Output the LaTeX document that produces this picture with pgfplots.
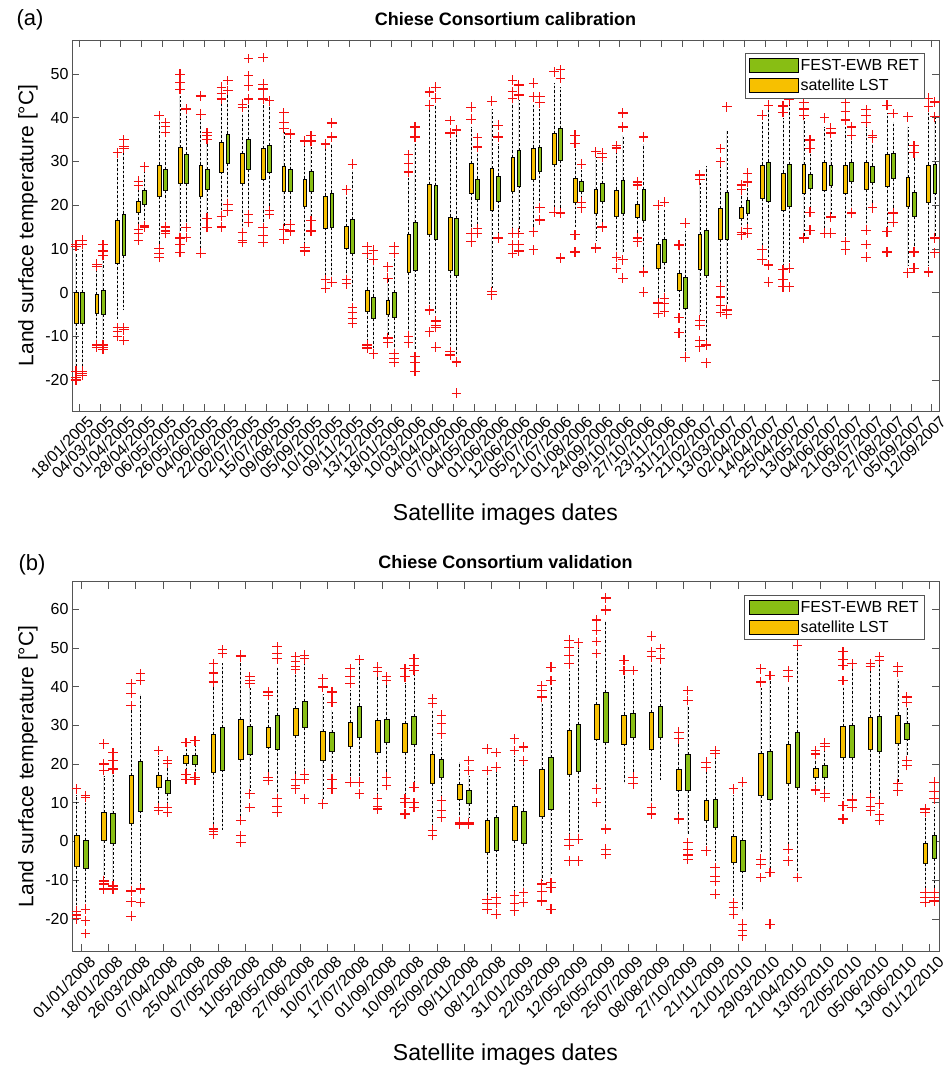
\documentclass[border=0pt]{standalone}
\usepackage{fontspec}
\setmainfont{Liberation Sans}
\usepackage{pgfplots}
\pgfplotsset{compat=1.18}
\usepgfplotslibrary{statistics}
\definecolor{yel}{RGB}{247,192,0}
\definecolor{grn}{RGB}{136,190,20}
\definecolor{axgray}{RGB}{85,85,85}
\definecolor{outred}{RGB}{245,15,15}

\pgfdeclareplotmark{rplus}{%
  \pgfsetstrokecolor{outred}%
  \pgfsetdash{}{0pt}%
  \pgfsetlinewidth{1.15pt}%
  \pgfpathmoveto{\pgfqpoint{-\pgfplotmarksize}{0pt}}%
  \pgfpathlineto{\pgfqpoint{\pgfplotmarksize}{0pt}}%
  \pgfpathmoveto{\pgfqpoint{0pt}{-\pgfplotmarksize}}%
  \pgfpathlineto{\pgfqpoint{0pt}{\pgfplotmarksize}}%
  \pgfusepathqstroke}

\pgfplotsset{
  ybox/.style={draw=black, fill=yel, line width=0.6pt, forget plot},
  gbox/.style={draw=black, fill=grn, line width=0.6pt, forget plot},
  outl/.style={only marks, mark=rplus, mark size=4.8pt, color=outred, forget plot},
  myaxis/.style={
    anchor=south west, scale only axis, width=867pt,
    axis line style={axgray, line width=0.7pt},
    tick style={axgray, line width=0.7pt},
    tick align=inside, major tick length=7pt,
    /pgf/number format/assume math mode=true,
    yticklabel style={font=\fontsize{16}{19}\selectfont},
    xticklabel style={font=\fontsize{16}{19}\selectfont, rotate=45, anchor=north east, xshift=6pt, yshift=-4pt},
    xlabel={Satellite images dates},
    ylabel={Land surface temperature [°C]},
    every axis y label/.style={at={(axis description cs:-0.0507,0.5)}, rotate=90, anchor=center, font=\fontsize{21}{24}\selectfont},
    title style={font=\bfseries\fontsize{18}{21}\selectfont, anchor=center},
    legend style={anchor=north east, draw=axgray, line width=0.7pt, font=\fontsize{16}{19}\selectfont, cells={anchor=west}, row sep=3pt, inner sep=4pt},
    legend image code/.code={\draw[#1] (0pt,-7pt) rectangle (49pt,7pt);},
    boxplot/draw direction=y,
    boxplot/every whisker/.style={dashed, dash pattern=on 2.5pt off 2pt, black, line width=0.6pt},
    boxplot/every median/.style={draw=none},
    boxplot/whisker extend=0,
  }
}
% top panel boxes (offset 0.15)
\newcommand{\Ya}[5]{\addplot[ybox, boxplot prepared={draw position=#1-0.15, lower whisker=#2, lower quartile=#3, median=#3, upper quartile=#4, upper whisker=#5}] coordinates {};}
\newcommand{\Ga}[5]{\addplot[gbox, boxplot prepared={draw position=#1+0.15, lower whisker=#2, lower quartile=#3, median=#3, upper quartile=#4, upper whisker=#5}] coordinates {};}
% bottom panel boxes (offset 0.165)
\newcommand{\Yb}[5]{\addplot[ybox, boxplot prepared={draw position=#1-0.165, lower whisker=#2, lower quartile=#3, median=#3, upper quartile=#4, upper whisker=#5}] coordinates {};}
\newcommand{\Gb}[5]{\addplot[gbox, boxplot prepared={draw position=#1+0.165, lower whisker=#2, lower quartile=#3, median=#3, upper quartile=#4, upper whisker=#5}] coordinates {};}

\begin{document}
\begin{tikzpicture}
\useasboundingbox (0,0) rectangle (950pt,1071pt);
\node[font=\fontsize{22}{25}\selectfont] at (30pt,1051pt) {(a)};
\node[font=\fontsize{22}{25}\selectfont] at (32pt,506pt) {(b)};

\begin{axis}[myaxis, at={(72pt,660pt)}, height=371pt,
  xmin=0.66, xmax=42.35, ymin=-27.1, ymax=57.8,
  ytick={-20,-10,...,50}, xtick={1,...,42},
  xticklabels={18/01/2005,04/03/2005,01/04/2005,28/04/2005,06/05/2005,26/05/2005,04/06/2005,22/06/2005,02/07/2005,15/07/2005,09/08/2005,05/09/2005,10/10/2005,09/11/2005,13/12/2005,18/01/2006,10/03/2006,04/04/2006,07/04/2006,04/05/2006,01/06/2006,12/06/2006,05/07/2006,21/07/2006,01/08/2006,24/09/2006,09/10/2006,27/10/2006,23/11/2006,31/12/2006,21/02/2007,13/03/2007,02/04/2007,14/04/2007,25/04/2007,13/05/2007,04/06/2007,21/06/2007,03/07/2007,27/08/2007,05/09/2007,12/09/2007},
  title={Chiese Consortium calibration},
  title style={at={(axis description cs:0.5,1.040)}},
  every axis x label/.style={at={(axis description cs:0.5,-0.280)}, anchor=center, font=\fontsize{23}{26}\selectfont},
  legend style={at={(axis description cs:0.984,0.965)}},
  boxplot/box extend=0.18]
\Ya{1}{-17}{-7}{0}{9}
\Ya{2}{-11}{-4.7}{-0.5}{5}
\Ya{3}{-6}{6.8}{16.5}{31}
\Ya{4}{15}{18.3}{21}{24}
\Ya{5}{11}{22}{29.2}{40}
\Ya{6}{13}{25}{33.2}{45}
\Ya{7}{10}{22}{29.2}{40}
\Ya{8}{18}{27.6}{34.4}{44}
\Ya{9}{14}{25}{31.9}{41}
\Ya{10}{15}{26}{33}{43}
\Ya{11}{15}{23.1}{29}{37}
\Ya{12}{11}{19.7}{26}{34}
\Ya{13}{4}{14.8}{22.1}{33}
\Ya{14}{4}{10.2}{15.2}{22}
\Ya{15}{-11}{-4.4}{0.6}{8}
\Ya{16}{-10}{-5}{-1.7}{3}
\Ya{17}{-9}{4.7}{13.4}{27}
\Ya{18}{-3}{13.4}{24.8}{42}
\Ya{19}{-13}{5}{17.3}{35}
\Ya{20}{14.5}{22.8}{29.6}{38}
\Ya{21}{1}{18.9}{28.5}{42}
\Ya{22}{14.5}{23.2}{31}{44}
\Ya{23}{15}{25.9}{33.1}{43}
\Ya{24}{19}{29.4}{36.5}{48}
\Ya{25}{15}{20.7}{26.2}{33}
\Ya{26}{12}{18.2}{23.7}{31}
\Ya{27}{9}{17.5}{23.5}{32}
\Ya{28}{13}{17.3}{20.3}{23}
\Ya{29}{-1.5}{5.6}{11}{19}
\Ya{30}{-4}{0.6}{4.5}{10}
\Ya{31}{-5}{5.4}{13.4}{25}
\Ya{32}{2}{12.2}{19.3}{29}
\Ya{33}{14}{17}{19.4}{23}
\Ya{34}{11}{21.6}{29.2}{39}
\Ya{35}{6}{18.9}{27.4}{40}
\Ya{36}{13}{22.8}{29.4}{40}
\Ya{37}{14}{23.5}{29.7}{38}
\Ya{38}{13}{22.8}{29.2}{38}
\Ya{39}{15}{23.7}{29.7}{38}
\Ya{40}{15}{24.4}{31.7}{41}
\Ya{41}{6}{19.8}{26.4}{38}
\Ya{42}{6}{20.7}{29.2}{42}
\Ga{1}{-17}{-7}{0}{10}
\Ga{2}{-11}{-5}{0.5}{8}
\Ga{3}{-4}{8.5}{18}{32}
\Ga{4}{16}{20.2}{23.3}{28}
\Ga{5}{16}{23.3}{28.2}{35}
\Ga{6}{15}{25}{31.7}{41}
\Ga{7}{18}{23.7}{28.2}{34}
\Ga{8}{21}{29.6}{36.3}{46}
\Ga{9}{18.5}{28.1}{35.1}{44}
\Ga{10}{19}{27.6}{33.6}{43}
\Ga{11}{16}{23.1}{28.1}{35}
\Ga{12}{17}{23.1}{27.7}{34}
\Ga{13}{3.5}{15}{22.8}{34}
\Ga{14}{-2}{9}{16.8}{28}
\Ga{15}{-13}{-6}{-1}{7}
\Ga{16}{-13}{-5.6}{0}{8}
\Ga{17}{-13}{5.2}{16.1}{34}
\Ga{18}{-5}{12.3}{24.6}{43}
\Ga{19}{-14.5}{4}{17}{36}
\Ga{20}{15.5}{21.4}{26}{32}
\Ga{21}{13}{21}{26.7}{34}
\Ga{22}{14}{24.4}{32.6}{44}
\Ga{23}{20}{27.8}{33.3}{42}
\Ga{24}{19}{30.3}{37.6}{47}
\Ga{25}{21}{23.2}{25.5}{28}
\Ga{26}{16}{20.9}{25}{30}
\Ga{27}{9}{18.2}{25.8}{36}
\Ga{28}{5}{16.6}{23.7}{34}
\Ga{29}{0}{6.9}{12.2}{19}
\Ga{30}{-14}{-3.5}{3.5}{14}
\Ga{31}{-11}{4}{14.3}{29}
\Ga{32}{-3}{12.3}{23}{37}
\Ga{33}{15}{18.2}{21.2}{24}
\Ga{34}{8}{21}{29.9}{42}
\Ga{35}{7}{19.8}{29.4}{43}
\Ga{36}{19}{23.9}{27.1}{32}
\Ga{37}{18}{24.6}{29.2}{35}
\Ga{38}{19}{25.5}{29.9}{35}
\Ga{39}{20}{25.3}{29}{34}
\Ga{40}{19}{26.2}{31.9}{39}
\Ga{41}{10}{17.5}{23}{31}
\Ga{42}{13}{22.8}{29.4}{40}
\addplot[outl, x filter/.expression={x-0.15}] coordinates {
(1,10.5)(1,11)(1,-18)(1,-19.5)(1,-20)
(2,6)(2,6.5)(2,-12)(2,-12.5)
(3,32)(3,-8)(3,-9)(3,-10)
(4,25.5)(4,24.5)(4,14.5)(4,13.5)(4,12)
(5,40.5)(5,10)(5,9)(5,8)
(6,46.5)(6,48)(6,50)(6,12.5)(6,11)(6,9.2)
(7,40.8)(7,45)(7,9)
(8,44.3)(8,45.5)(8,47)(8,17.5)(8,15)
(9,42.4)(9,43.1)(9,13.7)(9,12)(9,11.5)
(10,44.3)(10,46.6)(10,47.7)(10,53.8)(10,14.9)(10,13)(10,11.5)
(11,37.5)(11,39)(11,41.2)(11,14.5)(11,12.2)
(12,34.7)(12,10.3)(12,9.5)
(13,34)(13,2.9)(13,1)
(14,23.5)(14,3)(14,2)
(15,9)(15,10.5)(15,-12)(15,-12.7)
(16,3.3)(16,5.9)(16,-10.4)(16,-11.5)
(17,27.6)(17,29.5)(17,31.5)(17,-10)(17,-11.5)
(18,42.9)(18,45.9)(18,-4)(18,-9)
(19,36.5)(19,39.4)(19,-13.5)(19,-14.3)
(20,39.7)(20,42.4)(20,13.6)(20,11.6)
(21,43.8)(21,0.2)(21,-0.5)
(22,44.5)(22,46)(22,48.6)(22,13.6)(22,11)(22,9)
(23,44.8)(23,47.9)(23,13.9)(23,9.8)
(24,50.5)(24,18.4)
(25,34.2)(25,36)(25,13.2)(25,9.3)
(26,32.2)(26,10.2)
(27,33.1)(27,33.7)(27,8.1)(27,5.6)
(28,24.6)(28,25.3)(28,12.5)(28,11.6)
(29,20)(29,-2.4)(29,-4.7)
(30,10.9)(30,-5.8)(30,-9.2)
(31,25.8)(31,26.9)(31,-6.3)(31,-7.5)(31,-11)(31,-12.4)
(32,29.9)(32,33)(32,1.3)(32,-1)(32,-3)(32,-4.5)
(33,23.5)(33,24.6)(33,13.8)(33,13.2)
(34,40.6)(34,9.8)(34,7.5)
(35,41.3)(35,42.7)(35,5.2)(35,2.9)(35,1.3)
(36,40.5)(36,42)(36,43.4)(36,12.5)
(37,40)(37,13.6)
(38,39.5)(38,41.5)(38,43.4)(38,11.6)(38,9.8)
(39,39)(39,40.5)(39,41.8)(39,14.3)(39,11)(39,8.1)
(40,42.9)(40,13.9)(40,9.3)
(41,40.2)(41,4.5)
(42,42.5)(42,44.5)(42,4.7)
};
\addplot[outl, x filter/.expression={x+0.15}] coordinates {
(1,11)(1,12)(1,-18)(1,-18.5)(1,-19)
(2,8.5)(2,9.5)(2,11)(2,-12)(2,-12.5)(2,-13)
(3,33)(3,33.5)(3,35)(3,-8)(3,-8.5)(3,-11)
(4,28.8)(4,15.3)(4,15)
(5,36.6)(5,38)(5,38.9)(5,15)(5,14.1)(5,13.5)
(6,42)(6,14.9)(6,12.6)
(7,35.1)(7,36)(7,36.6)(7,17)(7,14.9)
(8,46.2)(8,48.5)(8,20.2)(8,18.7)
(9,44.3)(9,47.3)(9,49.6)(9,53.6)(9,17.9)(9,16)
(10,43.9)(10,18.7)(10,17.9)
(11,36.3)(11,15.6)(11,14.1)
(12,34.7)(12,35.9)(12,16.4)(12,14.1)
(13,35.6)(13,38.8)(13,2.4)
(14,29.4)(14,-3.5)(14,-4.5)(14,-6)(14,-7)
(15,7.5)(15,9.7)(15,-14)
(16,9)(16,10.5)(16,-14)(16,-15)(16,-16)
(17,35.6)(17,37.9)(17,-14.7)(17,-16)(17,-18)
(18,44.5)(18,47)(18,-6.5)(18,-7.5)(18,-8)(18,-12.5)
(19,37.2)(19,-15.9)(19,-23)
(20,33.3)(20,35.4)(20,14.7)(20,13.6)
(21,35.6)(21,38.3)(21,12.5)
(22,45.2)(22,47.5)(22,13.6)(22,11)(22,9.5)
(23,43.4)(23,44.8)(23,19.4)(23,16.6)
(24,49)(24,51)(24,18.2)(24,7.9)
(25,29.4)(25,20.7)(25,19.4)
(26,31)(26,31.9)(26,15)
(27,37.9)(27,41.1)(27,7.5)(27,3.3)
(28,35.6)(28,4.7)(28,0.1)
(29,20.7)(29,-1.3)(29,-2.5)(29,-4.4)
(30,15.9)(30,-14.8)
(31,-12)(31,-16.1)
(32,42.5)(32,-4)(32,-5)
(33,25.3)(33,27.3)(33,14.7)(33,13.6)
(34,42.9)(34,6.3)(34,2.4)
(35,44.1)(35,5.6)(35,1.3)
(36,33)(36,34.9)(36,18.4)(36,14.3)
(37,36.5)(37,37.6)(37,17.3)(37,13.6)
(38,36)(38,37.9)(38,18.2)
(39,35.4)(39,36)(39,19.4)
(40,41)(40,18.2)(40,16.1)
(41,32)(41,33.7)(41,9.3)(41,5.6)
(42,40.2)(42,43.6)(42,12.5)(42,9.1)
};
\addlegendimage{fill=grn, draw=black, line width=0.7pt}
\addlegendentry{FEST-EWB RET}
\addlegendimage{fill=yel, draw=black, line width=0.7pt}
\addlegendentry{satellite LST}
\end{axis}

\begin{axis}[myaxis, at={(72pt,120pt)}, height=369.3pt,
  xmin=0.67, xmax=32.34, ymin=-28.3, ymax=67.1,
  ytick={-20,-10,...,60}, xtick={1,...,32},
  xticklabels={01/01/2008,18/01/2008,26/03/2008,07/04/2008,25/04/2008,07/05/2008,11/05/2008,28/05/2008,27/06/2008,10/07/2008,17/07/2008,01/09/2008,10/09/2008,25/09/2008,09/11/2008,08/12/2008,31/01/2009,22/03/2009,12/05/2009,26/05/2009,25/07/2009,08/08/2009,27/10/2009,21/11/2009,21/01/2010,29/03/2010,21/04/2010,13/05/2010,22/05/2010,05/06/2010,13/06/2010,01/12/2010},
  title={Chiese Consortium validation},
  title style={at={(axis description cs:0.5,1.038)}},
  every axis x label/.style={at={(axis description cs:0.5,-0.2816)}, anchor=center, font=\fontsize{23}{26}\selectfont},
  legend style={at={(axis description cs:0.984,0.965)}},
  boxplot/box extend=0.17]
\Yb{1}{-17}{-6.5}{1.5}{12}
\Yb{2}{-9.5}{0.2}{7.5}{17}
\Yb{3}{-12}{4.7}{17}{34}
\Yb{4}{9.5}{14}{17.2}{22}
\Yb{5}{18}{20.2}{22.2}{24.5}
\Yb{6}{4}{17.9}{27.6}{40}
\Yb{7}{6}{21.1}{31.5}{46}
\Yb{8}{17}{24.4}{29.5}{36}
\Yb{9}{17}{27.4}{34.3}{44}
\Yb{10}{11}{20.9}{28.5}{38}
\Yb{11}{16}{24.6}{30.7}{39}
\Yb{12}{12}{23}{31.3}{43}
\Yb{13}{12}{23}{30.4}{41}
\Yb{14}{4}{15}{22.6}{34}
\Yb{15}{5.5}{11}{14.7}{20.5}
\Yb{16}{-14}{-2.8}{5.4}{17}
\Yb{17}{-13}{0.2}{9}{22}
\Yb{18}{-10}{6.4}{18.7}{36}
\Yb{19}{2}{17.4}{28.7}{44}
\Yb{20}{15}{26.5}{35.4}{47}
\Yb{21}{15}{25.2}{32.7}{43}
\Yb{22}{10}{23.9}{33.4}{46}
\Yb{23}{7}{13.3}{18.7}{26}
\Yb{24}{-1}{5.4}{10.5}{18}
\Yb{25}{-14}{-5.4}{1.2}{12}
\Yb{26}{-3}{11.8}{22.8}{40}
\Yb{27}{-1}{14.9}{25.2}{40}
\Yb{28}{14}{16.6}{18.9}{22}
\Yb{29}{11}{21.8}{29.7}{40}
\Yb{30}{12}{23.7}{32}{44}
\Yb{31}{15}{25.4}{32.7}{42}
\Yb{32}{-12}{-5.7}{-0.5}{7}
\Gb{1}{-16}{-6.9}{0.2}{10}
\Gb{2}{-11}{-0.5}{7.3}{18}
\Gb{3}{-11}{7.9}{20.6}{38}
\Gb{4}{9}{12.5}{15.9}{19}
\Gb{5}{17}{20}{22.2}{25}
\Gb{6}{3}{18.5}{29.4}{46}
\Gb{7}{13}{22.6}{29.8}{40}
\Gb{8}{12}{23.9}{32.6}{45}
\Gb{9}{18}{29.4}{36.2}{46}
\Gb{10}{17}{23.3}{28.2}{34}
\Gb{11}{16}{26.9}{35}{46}
\Gb{12}{17}{25.6}{31.6}{41}
\Gb{13}{15}{25}{32.3}{43}
\Gb{14}{11}{16.6}{21.1}{26}
\Gb{15}{6}{9.8}{13.1}{17}
\Gb{16}{-13}{-2.2}{6.2}{18}
\Gb{17}{-12}{-0.5}{7.9}{20}
\Gb{18}{-9}{8.4}{21.8}{40}
\Gb{19}{2}{18.1}{30.2}{50}
\Gb{20}{5}{25.6}{38.6}{57}
\Gb{21}{17}{26.8}{33.2}{42}
\Gb{22}{16}{26.9}{34.9}{45}
\Gb{23}{2}{13.1}{22.4}{35}
\Gb{24}{-5}{3.6}{10.8}{22}
\Gb{25}{-18}{-7.6}{0.2}{14}
\Gb{26}{-7}{11}{23.3}{42}
\Gb{27}{-8}{14}{28.2}{50}
\Gb{28}{13}{16.6}{19.6}{23.5}
\Gb{29}{12}{21.8}{30}{45}
\Gb{30}{11}{23.3}{32.3}{46}
\Gb{31}{22}{26.5}{30.4}{35}
\Gb{32}{-12}{-4.3}{1.7}{9}
\addplot[outl, x filter/.expression={x-0.165}] coordinates {
(1,13.6)(1,-18)(1,-19)(1,-20)
(2,18.3)(2,20)(2,25.2)(2,-10.2)(2,-11)(2,-12.3)
(3,35.1)(3,38.3)(3,40.8)(3,-12.8)(3,-15.6)(3,-19.3)
(4,23.5)(4,8.8)(4,8.1)
(5,25.6)(5,17.4)(5,16.1)
(6,41.2)(6,43.5)(6,45.9)(6,3.2)(6,2.5)(6,1.9)
(7,47.7)(7,48.1)(7,5.4)(7,1.5)(7,-0.3)
(8,37.7)(8,38.6)(8,16.6)(8,15.7)
(9,44.5)(9,45.1)(9,46.5)(9,47.7)(9,16.1)(9,14.5)(9,13.6)
(10,39.9)(10,42)(10,9.7)
(11,40.8)(11,42.5)(11,44.6)(11,15.3)
(12,43.8)(12,45)(12,11)(12,9)(12,8.4)
(13,42.5)(13,44.6)(13,11)(13,10)(13,7.1)
(14,35.6)(14,36.9)(14,2.9)(14,1.5)
(15,4.5)(15,5)
(16,18.3)(16,23.9)(16,-15)(16,-16)(16,-17.5)
(17,23.5)(17,26.5)(17,-14)(17,-16)(17,-17.9)
(18,37.3)(18,39)(18,40.3)(18,-11)(18,-13)(18,-15.4)
(19,45.9)(19,48)(19,50)(19,52)(19,0.6)(19,-1)(19,-5)
(20,48.5)(20,51.6)(20,54.6)(20,57.2)(20,13.6)(20,10.1)
(21,44.2)(21,46.8)
(22,47.7)(22,49)(22,53)(22,8.8)(22,7.1)
(23,26.5)(23,28.2)(23,5.8)
(24,19.2)(24,20.5)(24,-2.4)
(25,13.6)(25,-15.8)(25,-17)(25,-18.8)
(26,41.2)(26,44.6)(26,-4.6)(26,-6)(26,-9.3)
(27,42.5)(27,44.2)(27,-2)(27,-5)
(28,22.6)(28,23.5)(28,13.3)
(29,41.6)(29,45.5)(29,47)(29,49)(29,9.2)(29,5.8)
(30,45.3)(30,45.9)(30,11.4)(30,9)(30,7.9)
(31,43.8)(31,45.1)(31,14.9)(31,13.1)
(32,7.5)(32,8.4)(32,-13.2)(32,-14.5)(32,-15.8)
};
\addplot[outl, x filter/.expression={x+0.165}] coordinates {
(1,11.4)(1,11.8)(1,-17.5)(1,-20.5)(1,-23.8)
(2,18.7)(2,21)(2,23)(2,-11.5)(2,-12.3)
(3,41.6)(3,43.4)(3,-12.3)(3,-15.8)
(4,20.2)(4,20.9)(4,8.8)(4,7.5)
(5,26)(5,16.6)(5,15.9)
(6,48.5)(6,49.6)
(7,40.8)(7,41.5)(7,42.5)(7,12.3)(7,8.8)
(8,47.2)(8,48.5)(8,50.4)(8,11)(8,9)(8,7.5)
(9,47.2)(9,48.1)(9,17.4)(9,16)(9,11)
(10,36)(10,38.6)(10,16.1)(10,13.6)
(11,47)(11,15.3)(11,12.3)
(12,41.6)(12,42.5)(12,16.6)(12,14.4)
(13,44.2)(13,45.5)(13,47.2)(13,14)(13,10)(13,8.8)
(14,27.8)(14,30.4)(14,32.6)(14,10.5)(14,8)(14,6.2)
(15,18.3)(15,20.9)(15,4.9)(15,4.5)
(16,19.2)(16,23)(16,-14.5)(16,-16)(16,-18.8)
(17,20.9)(17,24.4)(17,-13.2)(17,-15.8)
(18,41.6)(18,45)(18,-10.6)(18,-12)(18,-17.5)
(19,51.3)(19,0.6)(19,-5)
(20,59.8)(20,62.9)(20,3.2)(20,-2)(20,-3.3)
(21,44.2)(21,16.6)(21,14.9)
(22,47.2)(22,49.8)
(23,36.4)(23,39)(23,-0.3)(23,-2)(23,-3.5)(23,-4.6)
(24,22.8)(24,23.5)(24,-6.7)(24,-9)(24,-10.3)(24,-13.6)
(25,15.3)(25,-21.4)(25,-23)(25,-24.4)
(26,42.9)(26,-8)(26,-21.4)
(27,50.7)(27,-9.3)
(28,24.5)(28,25.4)(28,12.3)(28,11.4)
(29,45.9)(29,10.7)(29,8.8)
(30,46.8)(30,47.8)(30,9.7)(30,7)(30,5.4)
(31,36)(31,37.3)(31,20.9)(31,19.6)
(32,11)(32,13)(32,15.3)(32,-13.2)(32,-14.5)(32,-15.4)
};
\addlegendimage{fill=grn, draw=black, line width=0.7pt}
\addlegendentry{FEST-EWB RET}
\addlegendimage{fill=yel, draw=black, line width=0.7pt}
\addlegendentry{satellite LST}
\end{axis}
\end{tikzpicture}
\end{document}
